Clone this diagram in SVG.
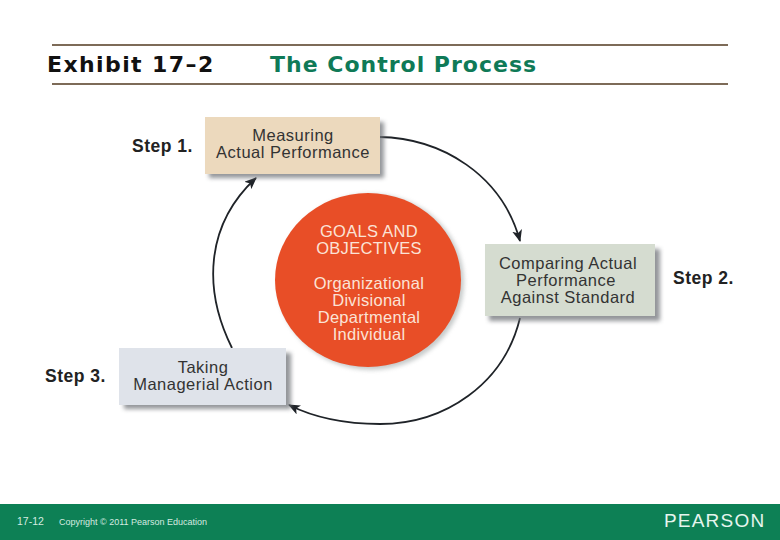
<svg xmlns="http://www.w3.org/2000/svg" width="780" height="540" viewBox="0 0 780 540">
<style>
.h{font-family:"DejaVu Sans",Verdana,sans-serif;font-weight:700;font-size:22px}
.s{font-family:"Liberation Sans",Arial,sans-serif;font-weight:700;font-size:17.5px;letter-spacing:.5px;fill:#222}
.n{font-family:"Liberation Sans",Arial,sans-serif;font-size:16.5px;letter-spacing:.5px;fill:#333;text-anchor:middle}
.c{font-family:"Liberation Sans",Arial,sans-serif;font-size:16.5px;letter-spacing:.3px;fill:#fbe3d6;text-anchor:middle}
.r{stroke:#7d6b58;stroke-width:2}
.l{fill:none;stroke:#1f2328;stroke-width:1.8;marker-end:url(#a)}
.sh{fill:#6f7378;opacity:.75;filter:url(#b)}
.f{font-family:"Liberation Sans",Arial,sans-serif;fill:#d5ebe0;font-size:9px}
</style>
<defs>
<marker id="a" markerWidth="13" markerHeight="11" refX="11" refY="5" orient="auto" markerUnits="userSpaceOnUse"><path d="M0 0L12 5L0 10L3 5Z" fill="#1f2328"/></marker>
<filter id="b" x="-10%" y="-20%" width="120%" height="140%"><feGaussianBlur stdDeviation="2"/></filter>
</defs>
<rect width="780" height="540" fill="#fff"/>
<g id="header">
<line class="r" x1="52" y1="45" x2="728" y2="45"/>
<line class="r" x1="52" y1="84" x2="728" y2="84"/>
<text class="h" x="47" y="72" fill="#111" letter-spacing="1.4">Exhibit 17–2</text>
<text class="h" x="270" y="72" fill="#0f7a57" letter-spacing="1">The Control Process</text>
</g>
<g id="connectors">
<path class="l" d="M379 137C442 138 502 175 520 241"/>
<path class="l" d="M520 318C504 384 445 424 380 424C345 424 315 418 289 405"/>
<path class="l" d="M232 348C203 290 205 225 256 178"/>
</g>
<g id="goals">
<ellipse cx="371" cy="282" rx="93" ry="88" fill="#9aa0a0" opacity=".55" filter="url(#b)"/>
<ellipse cx="368" cy="280" rx="93" ry="87" fill="#e84e27"/>
<text class="c"><tspan x="369" y="237">GOALS AND</tspan><tspan x="369" y="254">OBJECTIVES</tspan><tspan x="369" y="289">Organizational</tspan><tspan x="369" y="306">Divisional</tspan><tspan x="369" y="323">Departmental</tspan><tspan x="369" y="340">Individual</tspan></text>
</g>
<g id="step1">
<rect class="sh" x="209" y="122" width="175" height="56"/>
<rect x="205" y="117" width="175" height="57" fill="#ecd9bd"/>
<text class="n"><tspan x="293" y="141">Measuring</tspan><tspan x="293" y="158">Actual Performance</tspan></text>
<text class="s" x="132" y="152">Step 1.</text>
</g>
<g id="step2">
<rect class="sh" x="489" y="249" width="171" height="72"/>
<rect x="485" y="244" width="170" height="72" fill="#d5dcd0"/>
<text class="n"><tspan x="568" y="269">Comparing Actual</tspan><tspan x="566" y="286">Performance</tspan><tspan x="568" y="303">Against Standard</tspan></text>
<text class="s" x="673" y="284">Step 2.</text>
</g>
<g id="step3">
<rect class="sh" x="124" y="353" width="167" height="56"/>
<rect x="119" y="348" width="167" height="57" fill="#dfe3ea"/>
<text class="n"><tspan x="203" y="373">Taking</tspan><tspan x="203" y="390">Managerial Action</tspan></text>
<text class="s" x="45" y="382">Step 3.</text>
</g>
<g id="footer">
<rect y="504" width="780" height="36" fill="#0d8055"/>
<text class="f" x="17" y="525" font-size="10.5" style="font-size:10.5px">17-12</text>
<text class="f" x="59" y="525">Copyright © 2011 Pearson Education</text>
<text x="664" y="527" font-family="Liberation Sans,sans-serif" font-size="19" letter-spacing="1.2" fill="#e6f5ee">PEARSON</text>
</g>
</svg>
